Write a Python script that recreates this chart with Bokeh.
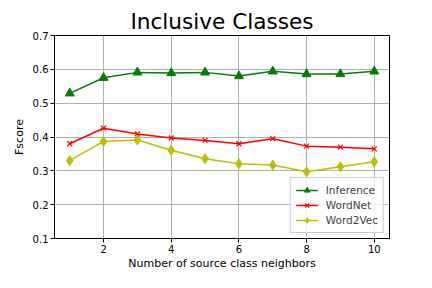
from bokeh.plotting import figure
from bokeh.embed import file_html
from bokeh.resources import INLINE
from bokeh.models import FixedTicker, Range1d, Legend, LegendItem

x = [1, 2, 3, 4, 5, 6, 7, 8, 9, 10]
inference = [0.529, 0.575, 0.591, 0.589, 0.591, 0.580, 0.594, 0.586, 0.586, 0.594]
wordnet = [0.380, 0.426, 0.409, 0.397, 0.390, 0.380, 0.395, 0.373, 0.370, 0.365]
word2vec = [0.330, 0.387, 0.391, 0.361, 0.336, 0.321, 0.317, 0.297, 0.312, 0.327]
x_ticks = [2, 4, 6, 8, 10]
y_ticks = [0.1, 0.2, 0.3, 0.4, 0.5, 0.6, 0.7]

FONT = "DejaVu Sans"

p = figure(width=416, height=272, output_backend="svg", toolbar_location=None,
           x_range=Range1d(0.55, 10.45), y_range=Range1d(0.1, 0.7),
           min_border_left=54, min_border_right=27, min_border_top=35, min_border_bottom=20)

p.title.text = "Inclusive Classes"
p.title.text_font = FONT
p.title.text_font_size = "21.6px"
p.title.text_font_style = "normal"
p.title.text_color = "black"
p.title.align = "center"
p.title.offset = 0
p.title.standoff = 4

p.outline_line_color = "black"
p.outline_line_width = 1

for ax in (p.xaxis[0], p.yaxis[0]):
    ax.axis_line_color = "black"
    ax.major_tick_line_color = "black"
    ax.major_tick_in = 0
    ax.major_tick_out = 4
    ax.minor_tick_line_color = None
    ax.major_label_text_font = FONT
    ax.major_label_text_font_size = "10px"
    ax.major_label_text_color = "black"
    ax.major_label_standoff = 2
    ax.axis_label_text_font = FONT
    ax.axis_label_text_font_size = "11px"
    ax.axis_label_text_font_style = "normal"
    ax.axis_label_text_color = "black"

p.xaxis.ticker = FixedTicker(ticks=x_ticks)
p.yaxis.ticker = FixedTicker(ticks=y_ticks)
p.xaxis.axis_label = "Number of source class neighbors"
p.yaxis.axis_label = "Fscore"
p.xaxis.axis_label_standoff = 1
p.yaxis.axis_label_standoff = 4

p.xgrid.ticker = FixedTicker(ticks=x_ticks)
p.ygrid.ticker = FixedTicker(ticks=y_ticks)
p.grid.grid_line_color = "#b0b0b0"
p.grid.grid_line_width = 1

l1 = p.line(x, inference, line_color="green", line_width=1.5)
m1 = p.scatter(x, inference, marker="triangle", size=9, fill_color="green", line_color="green")
l2 = p.line(x, wordnet, line_color="red", line_width=1.5)
m2 = p.scatter(x, wordnet, marker="x", size=7, line_color="red", line_width=1.2)
l3 = p.line(x, word2vec, line_color="#bfbf00", line_width=1.5)
m3 = p.scatter(x, word2vec, marker="diamond", size=10, fill_color="#bfbf00", line_color="#bfbf00")

legend = Legend(items=[
    LegendItem(label="Inference", renderers=[l1, m1]),
    LegendItem(label="WordNet", renderers=[l2, m2]),
    LegendItem(label="Word2Vec", renderers=[l3, m3]),
], location="bottom_right")
legend.label_text_font = FONT
legend.label_text_font_size = "10.5px"
legend.border_line_color = "#cccccc"
legend.border_line_alpha = 1
legend.background_fill_alpha = 0.8
legend.glyph_width = 22
legend.glyph_height = 14
legend.label_height = 14
legend.spacing = 1
legend.padding = 5
legend.margin = 5
legend.label_standoff = 8
p.add_layout(legend)

open("out.html", "w").write(file_html(p, INLINE))
